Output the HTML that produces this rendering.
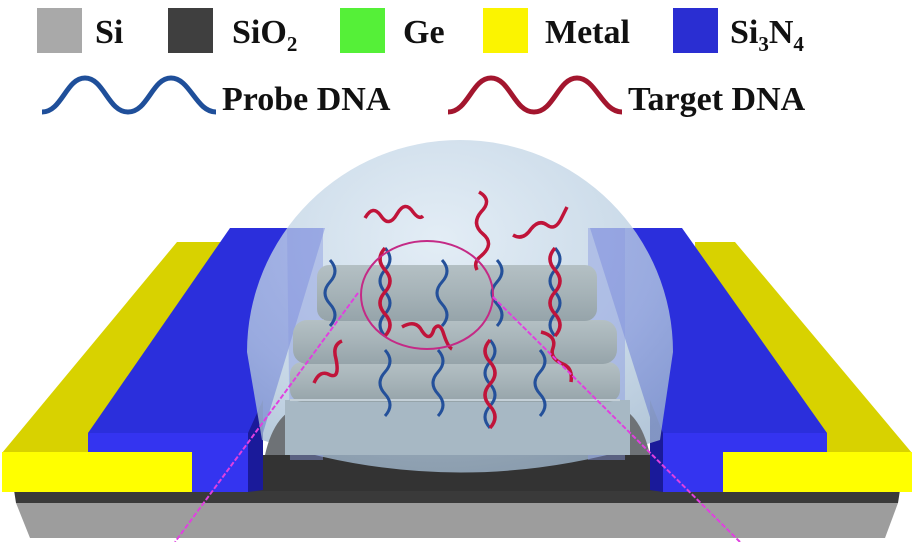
<!DOCTYPE html>
<html><head><meta charset="utf-8"><style>
html,body{margin:0;padding:0;background:#fff;width:915px;height:542px;overflow:hidden}
svg{display:block}
text{font-family:"Liberation Serif",serif;font-weight:bold;fill:#111}
</style></head><body>
<svg width="915" height="542" viewBox="0 0 915 542" xmlns="http://www.w3.org/2000/svg">
<defs>
<radialGradient id="dome" cx="0.45" cy="0.3" r="0.75">
<stop offset="0" stop-color="#dbe8f3"/><stop offset="0.7" stop-color="#b8cde0"/><stop offset="1" stop-color="#a0b8cf"/>
</radialGradient>
<linearGradient id="cyl" x1="0" y1="0" x2="0" y2="1">
<stop offset="0" stop-color="#b4c0c4"/><stop offset="0.5" stop-color="#a6b3b8"/><stop offset="1" stop-color="#96a4aa"/>
</linearGradient>
</defs>
<!-- legend -->
<rect x="37" y="8" width="45" height="45" fill="#a9a9a9"/>
<text x="95" y="43" font-size="34">Si</text>
<rect x="168" y="8" width="45" height="45" fill="#3f3f3f"/>
<text x="232" y="43" font-size="34">SiO<tspan font-size="21" dy="8">2</tspan></text>
<rect x="340" y="8" width="45" height="45" fill="#55f038"/>
<text x="403" y="43" font-size="34">Ge</text>
<rect x="483" y="8" width="45" height="45" fill="#fbf400"/>
<text x="545" y="43" font-size="34">Metal</text>
<rect x="673" y="8" width="45" height="45" fill="#2a2ed2"/>
<text x="730" y="43" font-size="34">Si<tspan font-size="21" dy="8">3</tspan><tspan dy="-8">N</tspan><tspan font-size="21" dy="8">4</tspan></text>
<path d="M42,112 C62,112 66,78 85,78 C104,78 108,112 128,112 C148,112 152,78 171,78 C190,78 196,112 216,112" fill="none" stroke="#1f4f9a" stroke-width="5"/>
<text x="222" y="110" font-size="34">Probe DNA</text>
<path d="M448,112 C468,112 472,78 491,78 C510,78 514,112 534,112 C554,112 558,78 577,78 C596,78 602,112 622,112" fill="none" stroke="#a3162e" stroke-width="5"/>
<text x="628" y="110" font-size="34">Target DNA</text>

<!-- substrate -->
<polygon points="30,538 885,538 898,503 16,503" fill="#9d9d9d"/>
<polygon points="16,503 898,503 900,490 14,490" fill="#3a3a3a"/>
<rect x="240" y="455" width="440" height="36" fill="#333"/>
<!-- left electrode -->
<polygon points="177,242 300,242 200,453 2,453" fill="#d8d200"/>
<polygon points="230,228 325,228 263,433 88,433" fill="#2b2fdc"/>
<rect x="88" y="433" width="160" height="59" fill="#3434f0"/>
<polygon points="248,433 263,400 263,490 248,492" fill="#1a1a9a"/>
<rect x="2" y="452" width="190" height="40" fill="#ffff00"/>
<!-- right electrode -->
<polygon points="695,242 735,242 912,453 700,453" fill="#d8d200"/>
<polygon points="590,228 682,228 827,433 655,433" fill="#2b2fdc"/>
<rect x="663" y="433" width="164" height="59" fill="#3434f0"/>
<polygon points="650,400 663,433 663,492 650,490" fill="#1a1a9a"/>
<rect x="723" y="452" width="189" height="40" fill="#ffff00"/>

<!-- dome -->
<path d="M247,352 A213,212 0 0 1 673,352 L660,440 Q460,505 262,440 Z" fill="url(#dome)" opacity="0.78"/>
<!-- inner translucent nitride -->
<polygon points="287,228 323,228 323,460 290,460" fill="#8a98e0" opacity="0.45"/>
<polygon points="588,228 625,228 625,460 588,460" fill="#8a98e0" opacity="0.45"/>
<!-- corner gray -->
<path d="M265,455 Q275,410 305,405 L305,455 Z" fill="#6e7276"/>
<path d="M650,455 Q640,410 612,405 L612,455 Z" fill="#6e7276"/>
<!-- base and wires -->
<rect x="285" y="400" width="345" height="55" fill="#a7b8c4"/>
<rect x="290" y="362" width="330" height="40" rx="12" fill="url(#cyl)"/>
<rect x="293" y="320" width="324" height="44" rx="14" fill="url(#cyl)"/>
<rect x="317" y="265" width="280" height="56" rx="12" fill="url(#cyl)"/>
<line x1="290" y1="400" x2="620" y2="400" stroke="#c4d0d8" stroke-width="2"/>

<!-- probe strands -->
<g fill="none" stroke="#24509a" stroke-width="3">
<path d="M330,260 q10,11 0,22 q-10,11 0,22 q10,11 0,22"/>
<path d="M442,260 q10,11 0,22 q-10,11 0,22 q10,11 0,22"/>
<path d="M497,260 q10,11 0,22 q-10,11 0,22 q10,11 0,22"/>
<path d="M385,350 q10,11 0,22 q-10,11 0,22 q10,11 0,22"/>
<path d="M438,350 q10,11 0,22 q-10,11 0,22 q10,11 0,22"/>
<path d="M540,350 q10,11 0,22 q-10,11 0,22 q10,11 0,22"/>
<path d="M385,248 q10,11 0,22 q-10,11 0,22 q10,11 0,22 q-10,11 0,22"/>
<path d="M555,248 q10,11 0,22 q-10,11 0,22 q10,11 0,22 q-10,11 0,22"/>
<path d="M490,340 q10,11 0,22 q-10,11 0,22 q10,11 0,22 q-10,11 0,22"/>
</g>
<!-- hybridized red -->
<g fill="none" stroke="#c0143a" stroke-width="3.5">
<path d="M385,248 q-10,11 0,22 q10,11 0,22 q-10,11 0,22 q10,11 0,22"/>
<path d="M555,248 q-10,11 0,22 q10,11 0,22 q-10,11 0,22 q10,11 0,22"/>
<path d="M490,340 q-10,11 0,22 q10,11 0,22 q-10,11 0,22 q10,11 0,22"/>
<!-- free targets -->
<path d="M365,218 q8,-14 16,-2 q8,12 16,-2 q8,-14 16,-2 q6,8 10,4"/>
<path d="M479,192 q14,8 2,20 q-10,12 2,22 q12,10 -2,22 q-8,6 -4,14"/>
<path d="M513,235 q10,6 18,-6 q8,-10 16,-4 q8,6 14,-6 q4,-8 6,-12"/>
<path d="M314,383 q6,-14 16,-8 q10,4 6,-16 q-4,-14 6,-18"/>
<path d="M402,327 q14,-8 20,4 q8,12 12,-2 q6,-8 10,6 q4,12 8,14"/>
<path d="M541,332 q16,4 12,16 q-4,10 10,16 q10,4 8,18"/>
</g>
<!-- magnifier -->
<ellipse cx="427" cy="295" rx="66" ry="54" fill="none" stroke="#c42a86" stroke-width="2"/>
<line x1="358" y1="293" x2="175" y2="542" stroke="#e040e0" stroke-width="2" stroke-dasharray="5,2"/>
<line x1="493" y1="297" x2="740" y2="542" stroke="#e040e0" stroke-width="2" stroke-dasharray="5,2"/>
</svg>
</body></html>
